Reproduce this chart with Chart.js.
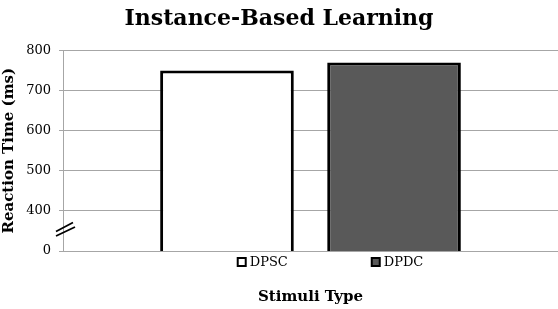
<!DOCTYPE html>
<html>
<head>
<meta charset="utf-8">
<script src="https://cdn.jsdelivr.net/npm/chart.js@4"></script>
<style>
  html, body { margin: 0; padding: 0; background: #fff; }
</style>
</head>
<body>
<canvas id="rtChart" width="558" height="309"></canvas>
<script>
// data
const categories = [''];
const seriesNames = ['DPSC', 'DPDC'];
const dpscValues = [750];
const dpdcValues = [770];
// axis is broken: the lowest tick sits where 300 would be but reads "0"
const tickValues = [300, 400, 500, 600, 700, 800];
const tickLabels = ['0', '400', '500', '600', '700', '800'];

const serif = '"DejaVu Serif", "Liberation Serif", serif';
const gridGray = '#a6a6a6';

// legend drawn under the plot, between the bars and the x title
const legendBelow = {
  id: 'legendBelow',
  afterDraw(chart) {
    const ctx = chart.ctx;
    const sets = chart.data.datasets;
    const box = 8, gap = 4, itemGap = 84;
    ctx.save();
    ctx.font = '13px ' + serif;
    const widths = sets.map(d => box + gap + ctx.measureText(d.label).width);
    const total = widths.reduce((a, b) => a + b, 0) + itemGap * (sets.length - 1);
    const area = chart.chartArea;
    let x = (area.left + area.right) / 2 + 20 - total / 2;
    const y = area.bottom + 11;
    sets.forEach((d, i) => {
      ctx.fillStyle = d.backgroundColor;
      ctx.fillRect(x, y - 4, box, box);
      ctx.strokeStyle = '#000';
      ctx.lineWidth = 2;
      ctx.strokeRect(x, y - 4, box, box);
      ctx.fillStyle = '#000';
      ctx.textBaseline = 'middle';
      ctx.textAlign = 'left';
      ctx.fillText(d.label, x + box + gap, y + 1);
      x += widths[i] + itemGap;
    });
    ctx.restore();
  }
};

// the "//" break mark on the y axis
const axisBreak = {
  id: 'axisBreak',
  afterDraw(chart) {
    const ctx = chart.ctx;
    const y = chart.scales.y.getPixelForValue(350);
    const x = chart.chartArea.left;
    ctx.save();
    ctx.strokeStyle = '#000';
    ctx.lineWidth = 1.8;
    ctx.beginPath();
    ctx.moveTo(x - 7, y + 5); ctx.lineTo(x + 12, y - 4);
    ctx.moveTo(x - 7, y + 0.5); ctx.lineTo(x + 10, y - 8.5);
    ctx.stroke();
    ctx.restore();
  }
};

new Chart(document.getElementById('rtChart'), {
  type: 'bar',
  data: {
    labels: categories,
    datasets: [
      {
        label: seriesNames[0],
        data: dpscValues,
        backgroundColor: '#ffffff',
        borderColor: '#000000',
        borderWidth: 3,
        borderSkipped: false,
      },
      {
        label: seriesNames[1],
        data: dpdcValues,
        backgroundColor: '#595959',
        borderColor: '#000000',
        borderWidth: 3,
        borderSkipped: false,
      },
    ],
  },
  options: {
    responsive: false,
    animation: false,
    categoryPercentage: 0.675,
    barPercentage: 0.8,
    layout: { padding: { left: 0, right: 0, top: 0, bottom: 0 } },
    plugins: {
      legend: { display: false },
      tooltip: { enabled: false },
      title: {
        display: true,
        text: 'Instance-Based Learning',
        color: '#000',
        font: { family: serif, size: 22, weight: 'bold' },
        padding: { top: 6, bottom: 18 },
      },
    },
    scales: {
      x: {
        grid: { display: false, drawTicks: false },
        border: { display: true, color: gridGray },
        ticks: { display: false },
        title: {
          display: true,
          text: 'Stimuli Type',
          color: '#000',
          font: { family: serif, size: 15, weight: 'bold' },
          padding: { top: 37, bottom: 3 },
        },
      },
      y: {
        min: 300,
        max: 800,
        afterBuildTicks: (scale) => {
          scale.ticks = tickValues.map(v => ({ value: v }));
        },
        afterFit: (scale) => { scale.width = 63; },
        grid: { color: gridGray, tickLength: 4 },
        border: { color: gridGray },
        ticks: {
          color: '#000',
          padding: 8,
          font: { family: serif, size: 13 },
          callback: (value) => tickLabels[tickValues.indexOf(value)],
        },
        title: {
          display: true,
          text: 'Reaction Time (ms)',
          color: '#000',
          font: { family: serif, size: 15, weight: 'bold' },
          padding: { top: 0, bottom: 0 },
        },
      },
    },
  },
  plugins: [legendBelow, axisBreak],
});
</script>
</body>
</html>
